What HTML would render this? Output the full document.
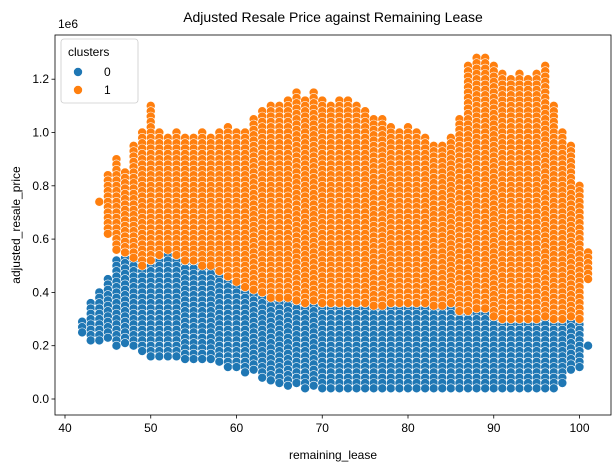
<!DOCTYPE html>
<html>
<head>
<meta charset="utf-8">
<style>
  html,body{margin:0;padding:0;background:#fff;}
  svg{display:block;font-family:"Liberation Sans","DejaVu Sans",sans-serif;}
</style>
</head>
<body>
<svg id="chart" width="614" height="468"></svg>
<script>
// ---- data (estimated per remaining-lease year) ----
const leases = [];
for (let v = 42; v <= 101; v++) leases.push(v);
const blueLo = [0.25,0.22,0.22,0.22,0.2,0.2,0.2,0.18,
  0.15,0.15,0.15,0.15,0.15,0.15,0.14,0.14,0.13,0.12,
  0.12,0.1,0.1,0.08,0.07,0.06,0.05,0.05,0.04,0.04,
  0.04,0.04,0.04,0.04,0.04,0.03,0.03,0.03,0.03,0.03,
  0.03,0.03,0.03,0.03,0.03,0.03,0.03,0.03,0.03,0.03,
  0.03,0.03,0.03,0.03,0.03,0.03,0.03,0.03,0.05,0.1,0.12,0.2];
const blueHi = [0.29,0.36,0.4,0.45,0.52,0.55,0.6,0.68,
  0.62,0.6,0.6,0.6,0.55,0.55,0.55,0.55,0.52,0.5,
  0.48,0.48,0.47,0.46,0.45,0.44,0.43,0.42,0.42,0.41,
  0.4,0.4,0.4,0.4,0.4,0.4,0.4,0.4,0.4,0.4,
  0.4,0.4,0.4,0.4,0.4,0.4,0.42,0.42,0.42,0.42,
  0.42,0.42,0.42,0.42,0.4,0.4,0.4,0.4,0.38,0.35,0.3,0.2];
const orangeLo = [null,null,0.74,0.62,0.56,0.54,0.52,0.5,
  0.52,0.54,0.56,0.54,0.52,0.52,0.5,0.5,0.48,0.46,
  0.44,0.42,0.4,0.4,0.38,0.38,0.37,0.37,0.36,0.36,
  0.36,0.36,0.35,0.35,0.35,0.35,0.35,0.35,0.35,0.35,
  0.35,0.35,0.35,0.35,0.35,0.35,0.33,0.33,0.33,0.33,
  0.3,0.3,0.3,0.3,0.3,0.3,0.3,0.3,0.3,0.3,0.3,0.45];
const orangeHi = [null,null,0.74,0.84,0.9,0.85,0.95,1.0,
  1.1,1.0,0.98,1.0,0.98,0.98,1.0,0.98,1.0,1.02,
  1.0,1.0,1.05,1.08,1.1,1.1,1.12,1.15,1.12,1.15,
  1.12,1.1,1.12,1.12,1.1,1.08,1.05,1.05,1.02,1.0,
  1.02,1.0,0.98,0.95,0.95,0.98,1.05,1.25,1.28,1.28,
  1.25,1.22,1.2,1.22,1.2,1.22,1.25,1.1,1.0,0.95,0.8,0.55];
const xTicks = [40,50,60,70,80,90,100];
const yTicks = [0.0,0.2,0.4,0.6,0.8,1.0,1.2];

// ---- axes ----
const L=55,R=611,T=35,B=415;
const xScale = v => 65 + (v-40)*8.575;
const yScale = v => 399 - v*266.5;
const NS="http://www.w3.org/2000/svg";
const svg=document.getElementById('chart');
function mk(tag,attrs,parent){const e=document.createElementNS(NS,tag);for(const k in attrs)e.setAttribute(k,attrs[k]);(parent||svg).appendChild(e);return e;}

const clip=mk('clipPath',{id:'pc'});mk('rect',{x:L,y:T,width:R-L,height:B-T},clip);
const gDots=mk('g',{'clip-path':'url(#pc)'});


function drawCluster(lo,hi,color,name){
  const g=mk('g',{},gDots);
  
  
  leases.forEach((x,i)=>{
    if(lo[i]==null)return;
    for(let v=hi[i]; v>=lo[i]-1e-9; v-=0.02){
      const c=mk('circle',{cx:xScale(x),cy:yScale(v),r:4.5,fill:color,stroke:'#fff','stroke-width':0.6},g);
      
      
    }
  });
}
drawCluster(blueLo,blueHi,'#1f77b4','cluster-0-points');
drawCluster(orangeLo,orangeHi,'#ff7f0e','cluster-1-points');

const frame=mk('rect',{x:L,y:T,width:R-L,height:B-T,fill:'none',stroke:'#000','stroke-width':0.8});


xTicks.forEach(t=>{
  const x=xScale(t);
  mk('line',{x1:x,x2:x,y1:B,y2:B+3.5,stroke:'#000','stroke-width':0.8});
  const tx=mk('text',{x:x,y:B+17,'font-size':12,'text-anchor':'middle',fill:'#000'});
  tx.textContent=t;
  
});
yTicks.forEach(t=>{
  const y=yScale(t);
  mk('line',{x1:L-3.5,x2:L,y1:y,y2:y,stroke:'#000','stroke-width':0.8});
  const tx=mk('text',{x:L-6,y:y+4,'font-size':12,'text-anchor':'end',fill:'#000'});
  tx.textContent=t.toFixed(1);
  
});
const off=mk('text',{x:L+3,y:T-7,'font-size':12});off.textContent='1e6';


const title=mk('text',{x:(L+R)/2,y:22,'font-size':14,'text-anchor':'middle'});
title.textContent='Adjusted Resale Price against Remaining Lease';

const xt=mk('text',{x:(L+R)/2,y:459,'font-size':12,'text-anchor':'middle'});
xt.textContent='remaining_lease';

const yt=mk('text',{x:20,y:(T+B)/2,'font-size':12,'text-anchor':'middle',transform:'rotate(-90 20 '+((T+B)/2)+')'});
yt.textContent='adjusted_resale_price';


// legend
const lg=mk('g',{});

mk('rect',{x:61,y:39,width:77,height:64,rx:3,fill:'#fff','fill-opacity':0.8,stroke:'#ccc','stroke-width':0.8},lg);
const lt=mk('text',{x:68,y:56,'font-size':12},lg);lt.textContent='clusters';
[['0','#1f77b4',72],['1','#ff7f0e',90]].forEach(([lab,col,y])=>{
  const e=mk('g',{},lg);
  
  mk('circle',{cx:78,cy:y,r:4.5,fill:col,stroke:'#fff','stroke-width':0.6},e);
  const t=mk('text',{x:104,y:y+4,'font-size':12},e);t.textContent=lab;
});
</script>
</body>
</html>
